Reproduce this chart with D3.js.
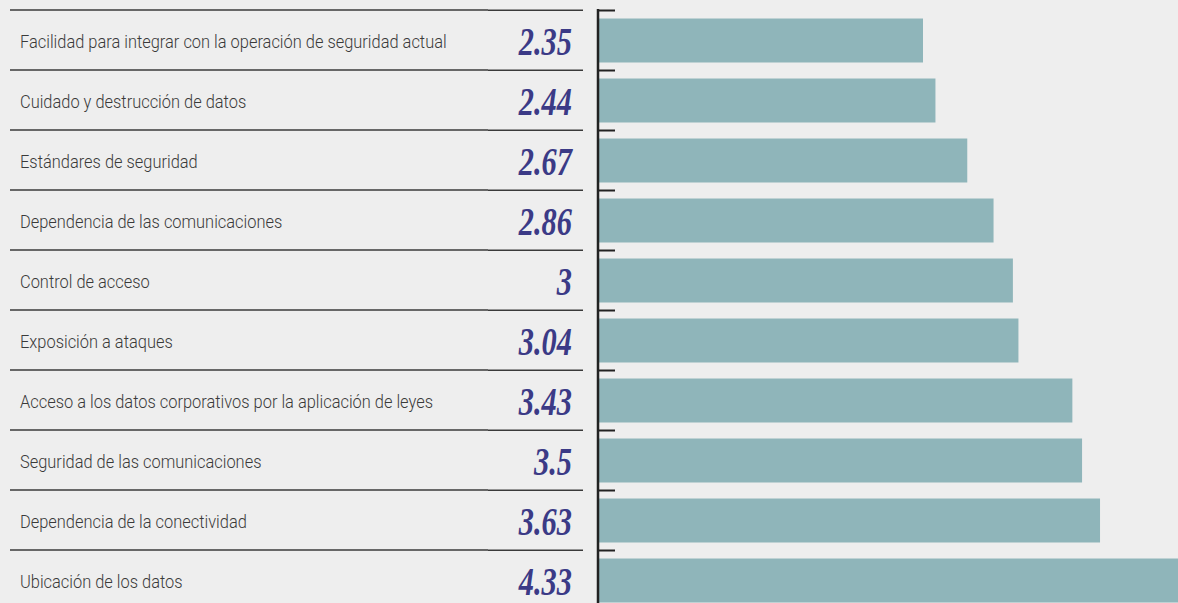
<!DOCTYPE html>
<html><head><meta charset="utf-8">
<script src="https://cdn.jsdelivr.net/npm/d3@7"></script>
<style>
html,body{margin:0;padding:0;background:#eeeeee;}
svg{display:block;}
</style></head>
<body>
<svg id="chart" width="1178" height="603"></svg>
<script>
const categories = [
  "Facilidad para integrar con la operación de seguridad actual",
  "Cuidado y destrucción de datos",
  "Estándares de seguridad",
  "Dependencia de las comunicaciones",
  "Control de acceso",
  "Exposición a ataques",
  "Acceso a los datos corporativos por la aplicación de leyes",
  "Seguridad de las comunicaciones",
  "Dependencia de la conectividad",
  "Ubicación de los datos"
];
const values = [2.35, 2.44, 2.67, 2.86, 3, 3.04, 3.43, 3.5, 3.63, 4.33];
const valueLabels = ["2.35", "2.44", "2.67", "2.86", "3", "3.04", "3.43", "3.5", "3.63", "4.33"];

const W = 1178, H = 603;
const svg = d3.select("#chart");
svg.append("rect").attr("width", W).attr("height", H).attr("fill", "#eeeeee");

const yTicks = d3.scaleBand().domain(categories).range([10, 610]).padding(0);
const x = d3.scaleLinear().domain([0, 4.33]).range([598, 598 + 4.33 * 138.3]);

// table lines
const lines = svg.append("g");
categories.forEach(c => {
  const yy = yTicks(c);
  lines.append("line").attr("x1", 10).attr("x2", 488).attr("y1", yy).attr("y2", yy)
    .attr("stroke", "#3a3a3a").attr("stroke-width", 1.5);
  lines.append("line").attr("x1", 488).attr("x2", 583).attr("y1", yy + 0.3).attr("y2", yy + 0.3)
    .attr("stroke", "#3a3a3a").attr("stroke-width", 1.5);
});

// bars
svg.append("g").selectAll("rect").data(categories).join("rect")
  .attr("x", x(0) + 1)
  .attr("y", d => yTicks(d) + 8.5)
  .attr("width", (d, i) => x(values[i]) - x(0) - 1)
  .attr("height", 44)
  .attr("fill", "#8fb5ba");

// axis
const axis = d3.axisRight(d3.scalePoint().domain(categories).range([yTicks(categories[0]), yTicks(categories[9])]))
  .tickSize(17).tickFormat("");
const ax = svg.append("g").attr("transform", `translate(${x(0)},0)`).call(axis);
ax.select(".domain").remove();
ax.selectAll(".tick line").attr("stroke", "#222").attr("stroke-width", 2);
svg.append("line").attr("x1", x(0)).attr("x2", x(0)).attr("y1", 9).attr("y2", H)
  .attr("stroke", "#222").attr("stroke-width", 2.5);

// labels
const labelG = svg.append("g");
const labels = labelG.selectAll("text").data(categories).join("text")
  .attr("font-family", "Roboto, 'Liberation Sans', sans-serif")
  .attr("font-weight", 300)
  .attr("font-size", 18)
  .attr("fill", "#3a3a3a")
  .attr("dominant-baseline", "central")
  .text(d => d);
const w0 = labels.nodes()[0].getComputedTextLength();
const sx = 427 / w0;
labels.attr("transform", d => `translate(20,${yTicks(d) + yTicks.bandwidth() / 2 + 2}) scale(${sx},1)`);

// values
svg.append("g").selectAll("text").data(categories).join("text")
  .attr("font-family", "'Liberation Serif', 'DejaVu Serif', serif")
  .attr("font-style", "italic")
  .attr("font-weight", "bold")
  .attr("font-size", 40)
  .attr("fill", "#3b3a86")
  .attr("text-anchor", "end")
  .attr("dominant-baseline", "central")
  .attr("transform", d => `translate(572,${yTicks(d) + yTicks.bandwidth() / 2 + 1}) scale(0.76,1)`)
  .text((d, i) => valueLabels[i]);
</script>
</body></html>
